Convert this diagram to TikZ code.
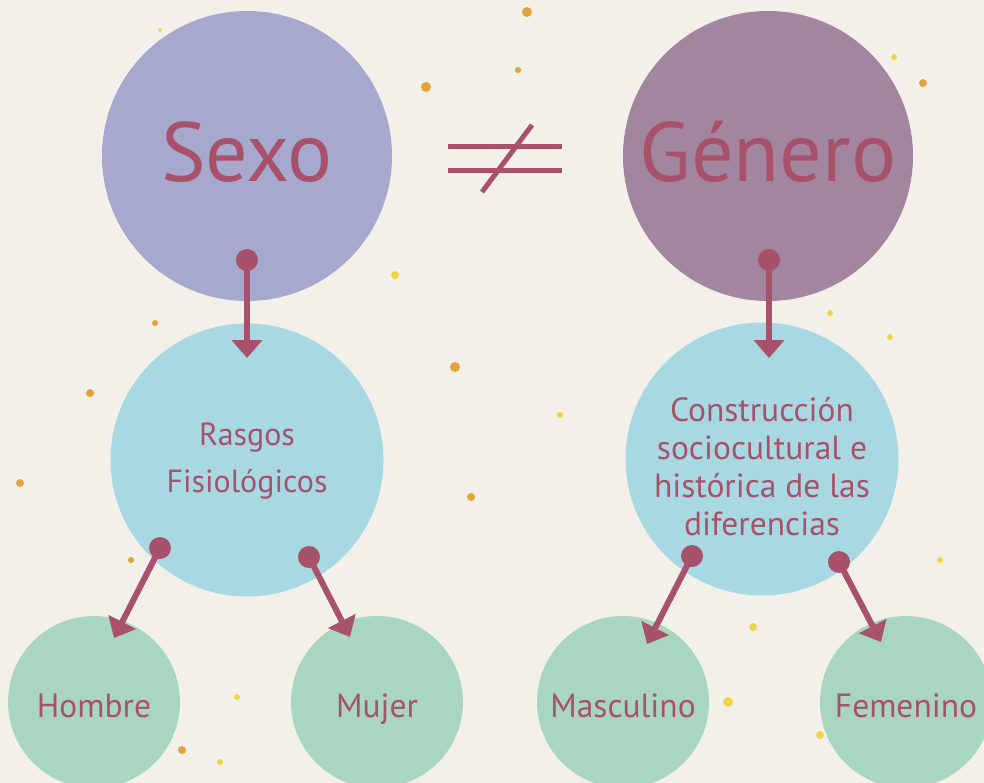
\documentclass[tikz,border=0pt]{standalone}
\usepackage{fontspec}
\setmainfont{PT Sans}
\usetikzlibrary{arrows.meta}

\definecolor{paper}{HTML}{F3F0EA}
\definecolor{rasp}{HTML}{A8516B}
\definecolor{lavender}{HTML}{A6A8CE}
\definecolor{mauve}{HTML}{A2859F}
\definecolor{skyblue}{HTML}{A8D9E2}
\definecolor{mint}{HTML}{A9D6C0}
\definecolor{speckgold}{HTML}{E3A33A}
\definecolor{speckyellow}{HTML}{EFD545}

\begin{document}
\begin{tikzpicture}[x=1pt,y=-1pt,
		bigvertex/.style={circle,inner sep=0pt,minimum size=290pt,text=rasp,
		text height=52pt,text depth=0pt,font=\fontsize{84}{84}\selectfont},
		midvertex/.style={circle,fill=skyblue,inner sep=0pt,minimum size=273pt},
		midtext/.style={text=rasp,align=center,inner sep=0pt},
		smallvertex/.style={circle,fill=mint,inner sep=0pt,minimum size=172pt,
		text=rasp,text height=30pt,text depth=0pt,font=\fontsize{33.5}{33.5}\selectfont},
		link/.style={draw=rasp,line width=6pt,-{Triangle[length=18pt,width=30pt]}},
		linkdot/.style={fill=rasp}
		]
		
		\useasboundingbox (0,0) rectangle (984,783);
		\fill[paper] (0,0) rectangle (984,783);
		\clip (0,0) rectangle (984,783);
		
		% specks on the paper
		\foreach \px/\py/\pr in {426/87/5, 527/12/5, 518/70/3, 455/367/5, 471/497/4,
			20/483/4, 90/393/4, 155/323/3, 182/750/4, 923/83/4, 131/560/3}
		\fill[speckgold] (\px,\py) circle (\pr);
		\foreach \px/\py/\pr in {395/275/4, 560/415/3, 753/627/4, 728/702/5, 820/735/4,
			894/57/3, 890/337/3, 830/313/3, 220/762/3, 237/697/3, 160/30/2, 940/560/3}
		\fill[speckyellow] (\px,\py) circle (\pr);
		
		% top row
		\node[bigvertex, fill=lavender](S0) at (247,156){Sexo};
		\node[bigvertex, fill=mauve](G0) at (768,156){Género};
		\draw[rasp, line width=5pt] (448,147) -- (562,147);
		\draw[rasp, line width=5pt] (448,171) -- (562,171);
		\draw[rasp, line width=5pt] (532,125) -- (482,192);
		
		% middle row
		\node[midvertex](S1) at (247,460){};
		\node[midtext, font=\fontsize{32}{47}\selectfont](S1txt) at ([yshift=-1pt]S1)
		{Rasgos\\Fisiológicos};
		\node[midvertex](G1) at (762,459){};
		\node[midtext, font=\fontsize{33.5}{38}\selectfont](G1txt) at ([yshift=-8pt]G1)
		{Construcción\\sociocultural e\\histórica de las\\diferencias};
		
		% bottom row
		\node[smallvertex](S2) at (94,702){Hombre};
		\node[smallvertex](S3) at (377,702){Mujer};
		\node[smallvertex](G2) at (623,702){Masculino};
		\node[smallvertex](G3) at (906,702){Femenino};
		
		% connectors
		\coordinate (S0d) at (247,260);
		\coordinate (S0t) at (247,358);
		\coordinate (G0d) at (769,260);
		\coordinate (G0t) at (769,358);
		\coordinate (S1a) at (160,548);
		\coordinate (S2t) at (114,638);
		\coordinate (S1b) at (309,557);
		\coordinate (S3t) at (350,637);
		\coordinate (G1a) at (692,556);
		\coordinate (G2t) at (647,644);
		\coordinate (G1b) at (839,562);
		\coordinate (G3t) at (881,642);
		
		\draw[link] (S0d) -- (S0t);
		\draw[link] (G0d) -- (G0t);
		\draw[link] (S1a) -- (S2t);
		\draw[link] (S1b) -- (S3t);
		\draw[link] (G1a) -- (G2t);
		\draw[link] (G1b) -- (G3t);
		\foreach \d in {S0d,G0d,S1a,S1b,G1a,G1b}
		\fill[linkdot] (\d) circle (11pt);
	\end{tikzpicture}
\end{document}
